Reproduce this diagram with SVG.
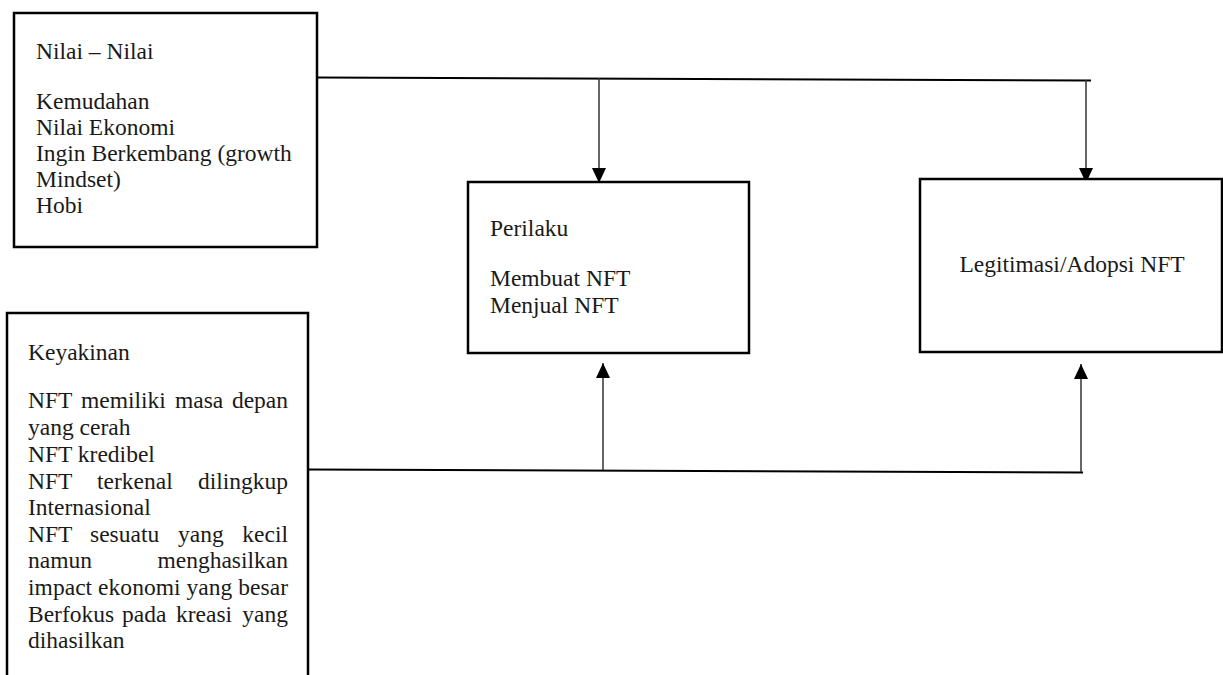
<svg xmlns="http://www.w3.org/2000/svg" width="1223" height="675" viewBox="0 0 1223 675">
<style>
.box{fill:#fff;stroke:#000;stroke-width:2.5}
.t{font-family:"Liberation Serif","Times New Roman",serif;font-size:23.5px;fill:#1a1a1a}
.c{stroke:#000;stroke-width:2;fill:none}
.a{stroke:#333;stroke-width:1.5;fill:none}
</style>
<defs>
<marker id="ah" markerUnits="userSpaceOnUse" markerWidth="15" markerHeight="15" viewBox="0 0 15 15" refX="15" refY="7.5" orient="auto">
<path d="M0,0.5 L15,7.5 L0,14.5 Z" fill="#000"/>
</marker>
</defs>
<rect width="1223" height="675" fill="#fff"/>
<g id="connectors">
<line class="c" x1="317" y1="77.5" x2="1091" y2="80.5"/>
<line class="a" x1="599" y1="78" x2="599" y2="183" marker-end="url(#ah)"/>
<line class="a" x1="1086" y1="80" x2="1086" y2="183" marker-end="url(#ah)"/>
<line class="c" x1="308" y1="469.5" x2="1083" y2="472.5"/>
<line class="a" x1="603" y1="470" x2="603" y2="363" marker-end="url(#ah)"/>
<line class="a" x1="1081" y1="472" x2="1081" y2="364" marker-end="url(#ah)"/>
</g>
<g id="nilai">
<rect class="box" x="14" y="13" width="303" height="234"/>
<text class="t" x="36" y="59">Nilai – Nilai</text>
<text class="t" x="36" y="109">Kemudahan</text>
<text class="t" x="36" y="135">Nilai Ekonomi</text>
<text class="t" x="36" y="161">Ingin Berkembang (growth</text>
<text class="t" x="36" y="187">Mindset)</text>
<text class="t" x="36" y="213">Hobi</text>
</g>
<g id="keyakinan">
<rect class="box" x="7" y="313" width="301" height="400"/>
<text class="t" x="28" y="360">Keyakinan</text>
<text class="t" y="408"><tspan x="28">NFT</tspan><tspan x="81">memiliki</tspan><tspan x="175">masa</tspan></text>
<text class="t" x="288" y="408" text-anchor="end">depan</text>
<text class="t" x="28" y="435">yang cerah</text>
<text class="t" x="28" y="462">NFT kredibel</text>
<text class="t" y="489"><tspan x="28">NFT</tspan><tspan x="97">terkenal</tspan></text>
<text class="t" x="288" y="489" text-anchor="end">dilingkup</text>
<text class="t" x="28" y="515">Internasional</text>
<text class="t" y="542"><tspan x="28">NFT</tspan><tspan x="90">sesuatu</tspan><tspan x="178">yang</tspan></text>
<text class="t" x="288" y="542" text-anchor="end">kecil</text>
<text class="t" x="28" y="568">namun</text>
<text class="t" x="288" y="568" text-anchor="end">menghasilkan</text>
<text class="t" x="28" y="595" textLength="260" lengthAdjust="spacing">impact ekonomi yang besar</text>
<text class="t" y="622"><tspan x="28">Berfokus</tspan><tspan x="122">pada</tspan><tspan x="176">kreasi</tspan></text>
<text class="t" x="288" y="622" text-anchor="end">yang</text>
<text class="t" x="28" y="648">dihasilkan</text>
</g>
<g id="perilaku">
<rect class="box" x="468" y="182" width="281" height="171"/>
<text class="t" x="490" y="236">Perilaku</text>
<text class="t" x="490" y="286">Membuat NFT</text>
<text class="t" x="490" y="313">Menjual NFT</text>
</g>
<g id="legitimasi">
<rect class="box" x="920" y="179" width="302" height="173"/>
<text class="t" x="1072" y="272" text-anchor="middle">Legitimasi/Adopsi NFT</text>
</g>
</svg>
